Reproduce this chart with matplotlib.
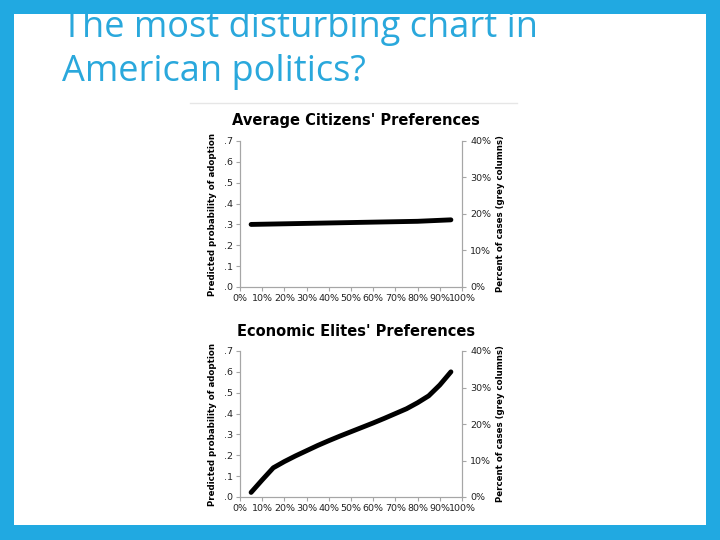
import matplotlib.pyplot as plt
import numpy as np
from matplotlib.patches import Rectangle
from matplotlib.lines import Line2D

# income percentile of the group's preference (share favouring change)
citizens_x = [0.05, 0.20, 0.35, 0.50, 0.65, 0.80, 0.95]
citizens_y = [0.300, 0.303, 0.306, 0.309, 0.312, 0.315, 0.322]

elites_x = [0.05, 0.10, 0.15, 0.20, 0.25, 0.30, 0.35, 0.40, 0.45, 0.50,
            0.55, 0.60, 0.65, 0.70, 0.75, 0.80, 0.85, 0.90, 0.95]
elites_y = [0.022, 0.082, 0.140, 0.170, 0.197, 0.222, 0.247, 0.270, 0.292, 0.313,
            0.334, 0.355, 0.377, 0.400, 0.423, 0.452, 0.485, 0.537, 0.600]

left_ticks = [0.0, 0.1, 0.2, 0.3, 0.4, 0.5, 0.6, 0.7]
left_labels = ['.0', '.1', '.2', '.3', '.4', '.5', '.6', '.7']
right_ticks = [0.0, 0.1, 0.2, 0.3, 0.4]
right_labels = ['0%', '10%', '20%', '30%', '40%']
x_ticks = np.arange(0, 1.01, 0.1)
x_labels = ['%d%%' % round(v * 100) for v in x_ticks]

blue = '#21A9E1'
spine_grey = '#A6A6A6'

fig = plt.figure(figsize=(7.2, 5.4), dpi=100)
fig.patch.set_facecolor('white')

fig.text(62 / 720, 1 - 37 / 540, 'The most disturbing chart in', fontsize=26,
         family='Open Sans', color='#2AA8DC', va='baseline', ha='left')
fig.text(62 / 720, 1 - 81 / 540, 'American politics?', fontsize=26,
         family='Open Sans', color='#2AA8DC', va='baseline', ha='left')

# faint edge of pasted picture
fig.add_artist(Line2D([190 / 720, 517 / 720], [1 - 103 / 540, 1 - 103 / 540],
                      color='#E6E6E6', lw=1))


def panel(rect, xs, ys, title, title_y):
    ax = fig.add_axes(rect)
    ax.plot(xs, ys, color='black', lw=3.5, solid_capstyle='round')
    ax.set_xlim(0, 1)
    ax.set_ylim(0, 0.7)
    ax.set_yticks(left_ticks)
    ax.set_yticklabels(left_labels, fontsize=6.8, color='#222222')
    ax.set_xticks(x_ticks)
    ax.set_xticklabels(x_labels, fontsize=6.8, color='#222222')
    ax.tick_params(axis='both', length=3, width=0.8, color=spine_grey, pad=2)
    ax.spines['top'].set_visible(False)
    for s in ['left', 'bottom', 'right']:
        ax.spines[s].set_color(spine_grey)
    ax.set_ylabel('Predicted probability of adoption', fontsize=6.2, fontweight='bold',
                  labelpad=5)
    ax2 = ax.twinx()
    ax2.set_ylim(0, 0.4)
    ax2.set_yticks(right_ticks)
    ax2.set_yticklabels(right_labels, fontsize=6.8, color='#222222')
    ax2.tick_params(axis='y', length=3, width=0.8, color=spine_grey, pad=3)
    ax2.spines['top'].set_visible(False)
    for s in ['left', 'bottom', 'right']:
        ax2.spines[s].set_color(spine_grey)
    ax2.set_ylabel('Percent of cases (grey columns)', fontsize=6.2, fontweight='bold',
                   labelpad=3)
    fig.text(356 / 720, 1 - title_y / 540, title, fontsize=10.5, fontweight='bold',
             family='DejaVu Sans', ha='center', va='center')
    return ax


panel([240 / 720, 1 - 287 / 540, 222 / 720, 146 / 540],
      citizens_x, citizens_y, "Average Citizens' Preferences", 121)
panel([240 / 720, 1 - 497 / 540, 222 / 720, 146 / 540],
      elites_x, elites_y, "Economic Elites' Preferences", 331)

# slide border
for (x, y, w, h) in [(0, 0, 14, 540), (706, 0, 14, 540), (0, 0, 720, 14), (0, 525, 720, 15)]:
    fig.add_artist(Rectangle((x / 720, 1 - (y + h) / 540), w / 720, h / 540,
                             facecolor=blue, edgecolor='none', zorder=10))

fig.savefig('out.png', dpi=100)
